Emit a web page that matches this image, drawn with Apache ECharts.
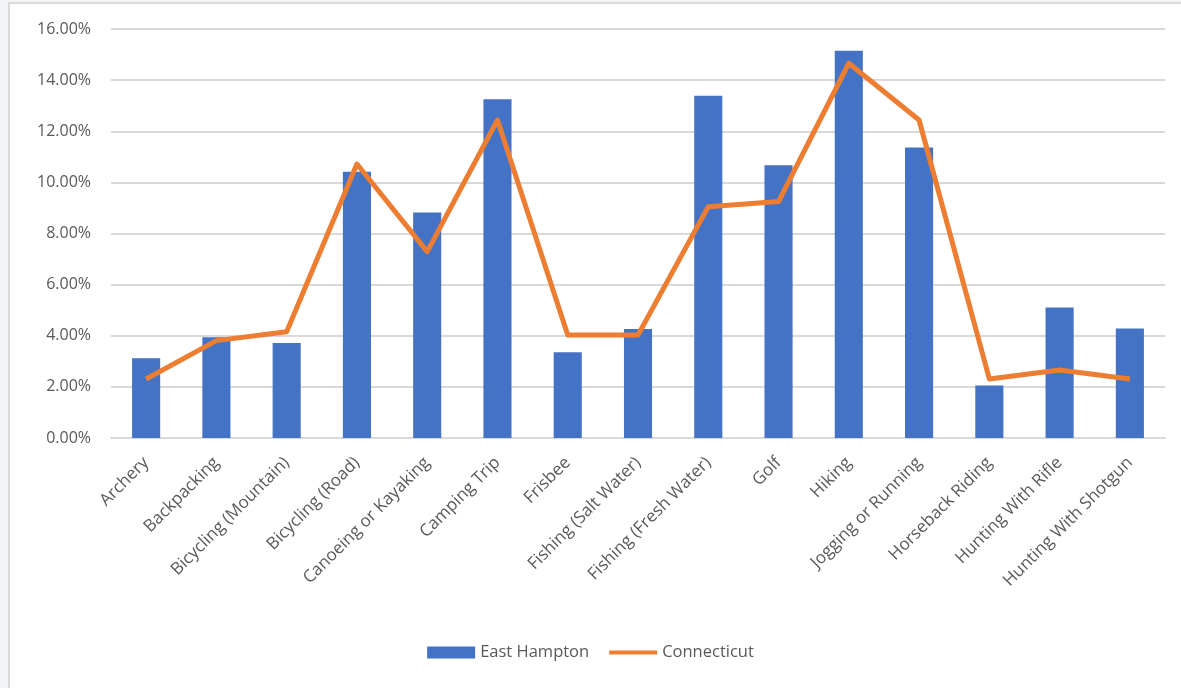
<!DOCTYPE html>
<html>
<head>
<meta charset="utf-8">
<script src="https://cdn.jsdelivr.net/npm/echarts@6/dist/echarts.min.js"></script>
<style>
  html, body { margin: 0; padding: 0; background: #f3f4f6; }
  #frame { position: absolute; left: 8px; top: 2px; width: 1173px; height: 686px; background: #fff; border-left: 2px solid #d9d9d9; border-top: 2px solid #d9d9d9; box-sizing: border-box; }
  #chart { position: absolute; left: 0; top: 0; width: 1181px; height: 688px; }
</style>
</head>
<body>
<div id="frame"></div>
<div id="chart"></div>
<script>
// activity categories
const activities = [
  'Archery', 'Backpacking', 'Bicycling (Mountain)', 'Bicycling (Road)',
  'Canoeing or Kayaking', 'Camping Trip', 'Frisbee', 'Fishing (Salt Water)',
  'Fishing (Fresh Water)', 'Golf', 'Hiking', 'Jogging or Running',
  'Horseback Riding', 'Hunting With Rifle', 'Hunting With Shotgun'
];
// share of participants, in percent
const eastHampton = [3.12, 3.94, 3.72, 10.42, 8.82, 13.25, 3.35, 4.26, 13.39, 10.67, 15.15, 11.36, 2.05, 5.11, 4.28];
const connecticut = [2.31, 3.81, 4.16, 10.72, 7.29, 12.44, 4.03, 4.03, 9.05, 9.25, 14.66, 12.44, 2.31, 2.66, 2.31];

const chart = echarts.init(document.getElementById('chart'));

const option = {
  backgroundColor: 'transparent',
  textStyle: { fontFamily: 'Open Sans' },
  animation: false,
  grid: { left: 111, right: 16, top: 29, bottom: 250 },
  legend: {
    bottom: 22,
    left: 'center',
    itemWidth: 48,
    itemHeight: 12,
    itemGap: 20,
    textStyle: { color: '#595959', fontSize: 16.5 },
    data: [
      { name: 'East Hampton', icon: 'rect' },
      // thin line icon with a near-invisible sliver to keep the box height
      { name: 'Connecticut', icon: 'path://M0,4 H48 V8 H0 Z M0,0 H0.01 V12 H0 Z' }
    ]
  },
  xAxis: {
    type: 'category',
    data: activities,
    axisLine: { lineStyle: { color: '#d9d9d9', width: 2 } },
    axisTick: { show: false },
    axisLabel: { rotate: 45, color: '#595959', fontSize: 17, interval: 0, margin: 22 }
  },
  yAxis: {
    type: 'value',
    min: 0,
    max: 16,
    interval: 2,
    axisLine: { show: false },
    axisTick: { show: false },
    splitLine: { lineStyle: { color: '#d9d9d9', width: 2 } },
    axisLabel: {
      color: '#595959',
      fontSize: 16,
      margin: 20,
      formatter: (v) => v.toFixed(2) + '%'
    }
  },
  series: [
    {
      name: 'East Hampton',
      type: 'bar',
      data: eastHampton,
      barWidth: '40%',
      itemStyle: { color: '#4472C4' }
    },
    {
      name: 'Connecticut',
      type: 'line',
      data: connecticut,
      symbol: 'none',
      lineStyle: { color: '#ED7D31', width: 5, join: 'round' },
      itemStyle: { color: '#ED7D31' }
    }
  ]
};

chart.setOption(option);
</script>
</body>
</html>
